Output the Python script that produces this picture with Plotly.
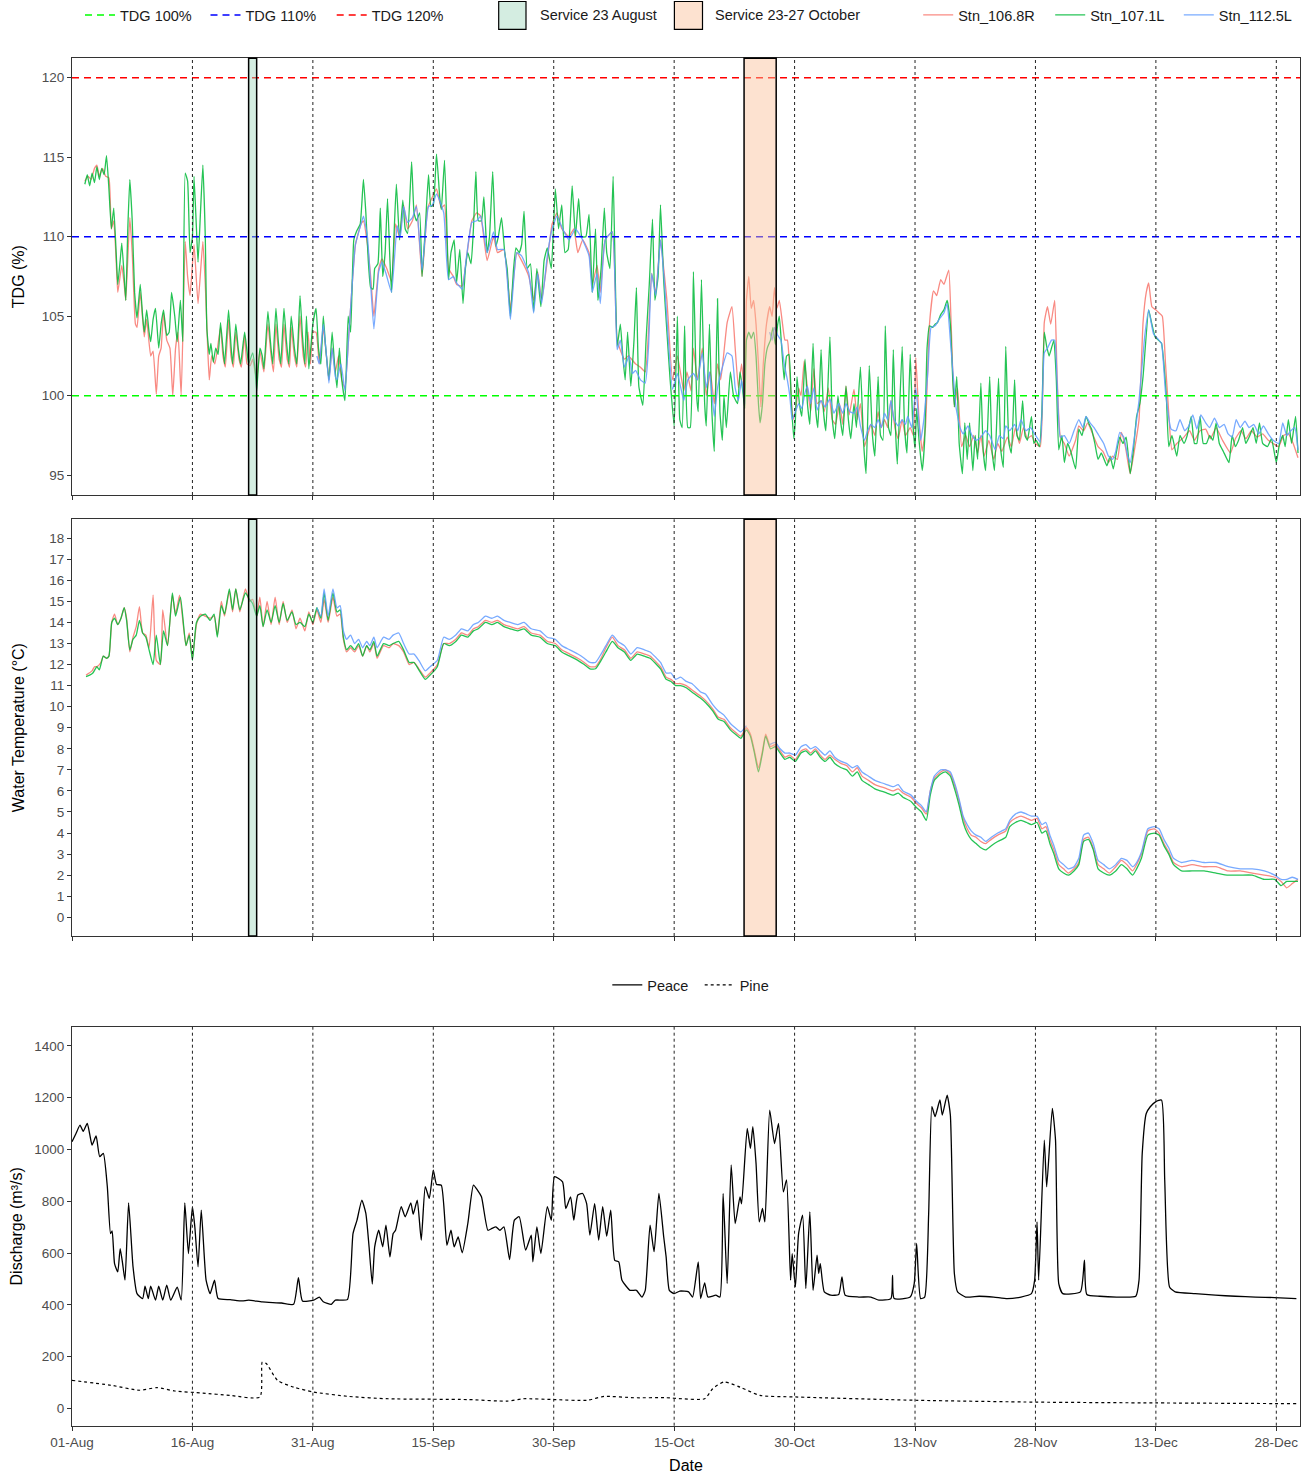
import pandas as pd
import plotly.graph_objects as go

W, H = 1309, 1475
BASE = pd.Timestamp("2019-08-01")

# ---------------- data (day offset from 01-Aug, value) ----------------
tick_days = [0, 15, 30, 45, 60, 75, 90, 105, 120, 135, 150]
tick_labels = ["01-Aug", "16-Aug", "31-Aug", "15-Sep", "30-Sep", "15-Oct",
               "30-Oct", "13-Nov", "28-Nov", "13-Dec", "28-Dec"]
tdg_thresholds = [100, 110, 120]
threshold_names = ["TDG 100%", "TDG 110%", "TDG 120%"]
service_aug = ("2019-08-23 00:00", "2019-08-24 00:00")
service_oct = ("2019-10-23 17:00", "2019-10-27 17:00")

tdg_106_8R = [(1.6,113.5),(2.0,113.8),(2.4,113.6),(2.8,114.3),(3.1,114.5),(3.4,113.8),(3.8,114.3),(4.2,113.8),(4.6,113.7),(4.9,110.5),(5.2,111.0),(5.5,108.5),(5.7,106.5),(6.2,108.2),(6.5,107.0),(6.7,106.0),(7.2,111.2),(7.5,109.0),(7.9,104.5),(8.1,104.3),(8.5,106.5),(9.0,103.7),(9.3,104.8),(9.8,102.5),(10.1,102.8),(10.5,100.1),(10.8,102.5),(11.1,103.0),(11.4,105.2),(11.8,103.5),(12.2,103.0),(12.55,100.0),(12.9,103.0),(13.2,104.0),(13.6,100.0),(14.1,109.7),(14.4,107.5),(14.7,106.3),(15.2,109.5),(15.7,105.8),(16.3,109.7),(16.6,107.0),(16.9,103.0),(17.1,101.0),(17.4,102.5),(17.8,102.0),(18.5,104.3),(18.8,102.5),(19.1,101.8),(19.5,104.8),(19.8,102.5),(20.1,101.8),(20.4,104.0),(20.8,102.3),(21.1,101.8),(21.5,103.8),(21.8,102.0),(22.2,101.9),(22.5,102.3),(23.0,101.0),(23.4,102.8),(23.9,101.5),(24.4,104.5),(24.8,102.5),(25.1,101.5),(25.4,104.5),(25.8,102.3),(26.1,101.8),(26.4,104.5),(26.8,102.3),(27.1,101.8),(27.3,104.3),(27.7,102.5),(28.0,101.8),(28.4,105.0),(28.8,102.5),(29.1,101.8),(29.4,104.0),(29.7,102.0),(30.0,104.0),(30.4,104.0),(30.8,102.0),(31.3,104.2),(31.7,102.5),(32.0,101.0),(32.4,103.0),(32.8,101.5),(33.2,102.5),(33.6,101.0),(34.0,100.5),(34.5,104.0),(35.3,109.5),(36.0,110.8),(36.3,111.0),(36.8,109.5),(37.2,107.5),(37.6,105.0),(38.2,108.0),(38.6,108.6),(39.2,108.0),(39.8,107.2),(40.3,110.8),(40.8,110.0),(41.3,112.0),(41.8,110.5),(42.4,111.0),(42.9,112.0),(43.6,107.5),(44.3,111.8),(44.7,112.3),(45.4,113.0),(46.0,111.8),(46.4,112.0),(46.9,108.0),(47.5,107.5),(47.9,107.0),(48.6,106.9),(49.1,108.5),(49.8,111.0),(50.4,111.5),(50.9,111.3),(51.7,108.5),(52.5,110.0),(53.0,109.0),(53.8,109.2),(54.6,105.5),(55.4,109.0),(56.0,108.5),(56.9,107.5),(57.5,106.0),(58.0,107.8),(58.5,106.0),(59.2,108.5),(59.8,110.8),(60.4,111.5),(61.0,110.5),(61.9,110.0),(62.5,110.5),(63.0,109.0),(63.6,109.8),(64.4,109.0),(64.8,107.0),(65.4,108.2),(65.8,106.5),(66.4,109.8),(67.3,110.3),(67.9,103.5),(68.8,102.3),(69.3,102.5),(70.2,102.0),(70.8,101.8),(71.4,101.5),(71.8,104.0),(72.2,107.7),(72.7,106.5),(73.3,109.8),(73.7,108.0),(74.1,106.0),(74.8,101.0),(75.4,102.5),(76.2,100.3),(76.6,101.5),(77.1,100.3),(77.4,103.0),(77.9,101.0),(78.5,103.0),(79.0,100.0),(79.5,101.5),(80.0,99.5),(80.4,102.0),(80.8,101.0),(81.6,104.6),(82.2,105.6),(82.6,103.0),(83.0,100.5),(83.4,102.0),(83.8,100.0),(84.0,106.0),(84.3,107.5),(84.6,105.5),(84.9,106.0),(85.2,104.5),(85.5,102.0),(85.8,99.3),(86.1,102.0),(86.5,104.5),(86.9,105.6),(87.2,105.0),(87.5,106.8),(87.8,105.5),(88.1,106.0),(88.5,104.5),(88.8,103.5),(89.1,103.5),(89.4,101.5),(89.8,98.5),(90.1,99.0),(90.5,100.5),(90.8,100.0),(91.2,102.2),(91.6,100.5),(92.0,99.0),(92.4,101.7),(92.8,99.5),(93.3,99.7),(93.7,99.0),(94.2,100.5),(94.7,98.5),(95.1,98.2),(95.6,99.5),(96.0,98.2),(96.4,100.6),(96.8,98.8),(97.4,100.4),(97.8,98.5),(98.2,99.5),(98.7,96.8),(99.1,97.5),(99.5,98.2),(100.0,97.5),(100.4,99.0),(100.8,98.0),(101.2,98.5),(101.6,98.0),(102.0,99.7),(102.5,98.0),(102.9,97.3),(103.4,98.5),(103.8,97.5),(104.4,98.0),(104.8,97.5),(105.1,102.4),(105.5,98.5),(105.9,96.5),(106.3,98.0),(106.8,104.5),(107.3,106.6),(107.7,106.3),(108.2,107.3),(108.6,107.0),(109.2,107.9),(109.5,104.5),(109.9,99.3),(110.3,100.5),(110.8,96.8),(111.3,97.5),(111.8,96.8),(112.3,97.5),(112.8,96.4),(113.2,97.5),(113.6,96.2),(114.2,97.2),(114.8,96.0),(115.3,97.0),(115.8,96.5),(116.5,97.4),(117.0,96.8),(117.5,98.0),(118.0,97.0),(118.5,98.0),(119.0,97.3),(119.5,97.5),(120.0,97.0),(120.6,96.8),(121.1,104.6),(121.5,105.6),(121.9,104.5),(122.4,106.0),(122.7,101.2),(123.1,97.4),(123.6,97.0),(124.2,96.2),(125.0,97.2),(125.4,98.1),(126.0,97.8),(126.5,98.3),(127.2,97.5),(127.8,96.8),(128.4,96.5),(129.1,95.8),(129.6,96.2),(130.2,96.0),(130.7,97.7),(131.2,96.8),(131.8,95.1),(132.4,96.8),(132.9,98.5),(133.4,104.6),(133.8,106.5),(134.1,107.1),(134.5,105.6),(135.0,105.4),(135.4,105.2),(135.8,105.0),(136.2,102.0),(136.5,99.7),(137.0,96.6),(137.6,97.0),(138.5,97.4),(139.2,97.8),(139.8,97.2),(140.5,97.8),(141.2,97.9),(141.8,97.3),(142.5,98.0),(143.3,97.2),(144.3,96.4),(144.9,97.3),(145.6,97.8),(146.2,97.3),(146.9,97.8),(147.6,97.4),(148.3,97.6),(149.0,97.2),(149.6,97.0),(150.3,96.8),(150.9,97.5),(151.5,97.6),(152.1,97.0),(152.7,96.1)]

tdg_107_1L = [(1.6,113.3),(1.9,113.9),(2.2,113.2),(2.5,114.0),(2.8,113.4),(3.1,114.4),(3.4,113.6),(3.7,114.3),(4.0,113.9),(4.3,115.1),(4.6,113.0),(4.9,110.5),(5.2,111.8),(5.5,109.0),(5.7,107.0),(6.0,108.5),(6.2,109.6),(6.5,107.5),(6.7,106.0),(6.95,110.5),(7.2,113.6),(7.5,111.0),(7.8,106.5),(8.1,104.9),(8.5,107.0),(8.8,105.0),(9.0,104.0),(9.3,105.4),(9.6,104.0),(9.8,103.4),(10.1,104.8),(10.4,105.5),(10.8,103.0),(11.1,104.5),(11.4,105.4),(11.8,103.8),(12.1,104.0),(12.4,106.5),(12.8,105.0),(13.1,103.4),(13.5,106.0),(13.8,103.4),(14.1,114.0),(14.4,113.5),(14.7,109.0),(15.0,110.0),(15.2,113.8),(15.5,110.5),(15.7,108.4),(16.0,111.5),(16.3,114.5),(16.6,110.0),(16.8,104.2),(17.1,102.6),(17.3,103.3),(17.6,102.1),(17.9,103.0),(18.2,102.6),(18.5,104.6),(18.8,103.0),(19.0,102.0),(19.5,105.4),(19.8,103.2),(20.0,102.0),(20.4,104.5),(20.7,103.0),(21.0,102.0),(21.5,104.0),(21.8,102.8),(22.0,102.0),(22.5,102.7),(22.8,101.7),(23.0,100.3),(23.4,103.0),(23.7,102.5),(23.9,101.7),(24.4,105.3),(24.7,103.5),(25.0,102.0),(25.4,105.5),(25.7,103.4),(26.0,102.0),(26.4,105.5),(26.7,103.5),(27.0,102.0),(27.3,105.0),(27.7,103.0),(28.0,102.0),(28.4,106.3),(28.7,103.8),(29.0,102.0),(29.2,105.0),(29.5,101.7),(30.0,104.5),(30.4,105.5),(30.7,103.0),(31.0,102.0),(31.3,105.0),(31.6,103.0),(32.0,101.0),(32.4,104.0),(32.7,102.0),(33.0,100.5),(33.3,103.0),(33.6,101.0),(34.0,99.7),(34.4,105.0),(34.7,104.0),(35.1,109.8),(35.5,110.4),(35.9,110.8),(36.3,113.6),(36.6,111.5),(36.9,108.5),(37.2,106.8),(37.5,106.7),(37.7,108.0),(38.1,108.3),(38.4,111.8),(38.7,107.5),(39.0,109.0),(39.3,112.4),(39.6,108.5),(39.8,106.5),(40.1,110.0),(40.4,113.3),(40.8,109.8),(41.2,112.3),(41.5,110.5),(41.8,110.2),(42.3,114.7),(42.6,111.5),(42.9,111.0),(43.3,111.5),(43.6,107.5),(44.0,110.5),(44.4,113.9),(44.7,111.9),(45.0,112.0),(45.4,115.2),(45.8,112.5),(46.0,111.7),(46.4,114.8),(46.7,110.5),(46.9,107.3),(47.2,109.0),(47.6,109.8),(47.9,107.1),(48.3,109.2),(48.7,105.8),(49.0,108.0),(49.3,109.0),(49.7,108.3),(50.0,110.5),(50.3,114.1),(50.6,111.0),(51.0,111.0),(51.3,112.5),(51.7,109.0),(52.0,110.0),(52.4,114.1),(52.8,109.4),(53.1,110.0),(53.5,111.2),(53.9,109.0),(54.2,108.0),(54.6,105.0),(55.0,108.0),(55.3,109.3),(55.7,109.0),(56.0,109.5),(56.3,111.6),(56.7,108.0),(57.1,108.3),(57.5,105.3),(57.9,108.0),(58.4,105.6),(58.8,108.5),(59.2,109.3),(59.7,108.0),(60.2,113.0),(60.6,110.5),(61.0,112.0),(61.4,109.0),(61.8,109.2),(62.3,113.2),(62.7,110.0),(63.1,112.4),(63.5,110.0),(64.0,110.0),(64.4,111.4),(64.8,106.5),(65.2,110.5),(65.5,106.0),(65.9,108.0),(66.3,111.8),(66.6,109.0),(67.0,108.0),(67.4,113.8),(67.9,103.1),(68.3,104.5),(68.6,102.5),(68.9,101.0),(69.2,104.0),(69.6,100.6),(70.0,103.5),(70.3,106.8),(70.6,100.6),(71.1,99.4),(71.5,103.5),(71.9,107.0),(72.3,111.1),(72.6,106.0),(73.0,107.5),(73.3,112.0),(73.7,107.2),(74.1,104.0),(74.5,101.0),(75.0,98.1),(75.4,105.0),(75.7,98.5),(76.0,98.0),(76.3,104.4),(76.7,98.0),(77.0,98.0),(77.4,107.8),(77.8,100.0),(78.0,99.0),(78.4,107.3),(78.8,99.5),(79.0,98.1),(79.4,104.5),(79.7,99.0),(80.0,96.5),(80.4,106.1),(80.7,99.0),(81.0,97.2),(81.2,100.0),(81.5,98.0),(82.0,101.5),(82.4,100.0),(82.9,99.5),(83.2,101.5),(83.5,100.5),(83.8,99.2),(84.0,103.5),(84.3,104.0),(84.6,103.6),(84.9,104.0),(85.2,102.5),(85.5,99.5),(85.7,98.3),(86.0,99.5),(86.3,102.0),(86.6,103.0),(87.0,103.5),(87.3,104.3),(87.6,103.2),(87.9,104.5),(88.1,105.0),(88.4,103.0),(88.7,101.0),(89.0,102.5),(89.3,102.6),(89.6,99.5),(89.9,97.3),(90.1,98.5),(90.3,101.2),(90.6,99.5),(90.9,98.7),(91.3,102.3),(91.6,99.5),(91.9,98.2),(92.3,103.3),(92.6,99.3),(92.9,98.0),(93.3,102.9),(93.6,99.0),(93.9,97.8),(94.4,103.7),(94.7,98.5),(95.0,97.3),(95.4,100.0),(95.7,98.5),(96.0,97.5),(96.4,100.6),(96.7,98.5),(97.0,97.3),(97.4,99.5),(97.7,98.0),(98.2,101.8),(98.6,97.0),(98.9,95.1),(99.3,101.9),(99.7,97.5),(100.0,96.2),(100.4,101.2),(100.7,97.5),(101.0,97.2),(101.3,104.4),(101.7,98.0),(102.0,97.5),(102.3,102.9),(102.6,97.5),(102.8,95.7),(103.4,103.1),(103.7,98.0),(104.0,96.4),(104.4,102.6),(104.7,98.5),(105.0,96.7),(105.2,99.2),(105.5,97.2),(105.9,95.3),(106.2,97.2),(106.5,103.0),(106.8,104.4),(107.2,104.3),(107.5,104.5),(107.8,104.6),(108.2,105.1),(108.6,105.4),(109.0,106.0),(109.4,104.5),(109.7,101.0),(109.9,99.3),(110.2,101.2),(110.5,97.0),(110.9,95.1),(111.2,98.3),(111.5,96.0),(111.8,98.3),(112.2,95.3),(112.5,97.5),(112.8,96.0),(113.2,100.8),(113.5,96.5),(113.8,95.3),(114.3,101.2),(114.6,96.5),(114.9,95.3),(115.4,101.1),(115.7,96.5),(116.0,95.5),(116.3,103.1),(116.7,97.0),(117.0,96.4),(117.4,101.0),(117.7,97.5),(118.0,97.2),(118.4,99.7),(118.7,97.5),(119.0,97.2),(119.5,98.7),(119.8,97.0),(120.1,97.2),(120.5,96.8),(120.8,99.0),(121.1,104.0),(121.4,103.1),(121.7,102.5),(122.0,103.0),(122.3,103.5),(122.6,101.0),(122.9,96.6),(123.3,97.5),(123.6,95.8),(124.0,97.0),(124.4,96.5),(125.0,95.4),(125.4,97.9),(125.8,97.5),(126.3,98.7),(126.7,98.2),(127.0,97.9),(127.4,97.0),(127.8,96.0),(128.2,96.4),(128.9,95.6),(129.3,96.2),(129.7,95.4),(130.1,96.5),(130.5,97.4),(130.9,97.0),(131.3,97.4),(131.8,95.1),(132.2,96.6),(132.6,98.7),(133.0,99.5),(133.4,101.2),(134.1,105.4),(134.5,104.5),(134.9,103.7),(135.3,103.5),(135.7,103.3),(136.0,102.0),(136.3,100.0),(136.6,96.8),(137.0,97.5),(137.6,96.2),(138.0,97.5),(138.5,97.0),(138.9,97.5),(139.4,98.7),(139.8,97.0),(140.1,97.0),(140.5,98.7),(140.9,97.0),(141.3,97.0),(141.7,97.5),(142.1,97.2),(142.5,98.3),(142.9,97.0),(143.4,96.5),(144.1,95.8),(144.5,97.5),(144.9,96.8),(145.3,97.2),(145.8,98.0),(146.2,97.0),(146.7,97.5),(147.1,98.0),(147.5,97.0),(147.9,98.3),(148.3,97.0),(148.9,96.8),(149.4,97.3),(150.0,95.8),(150.4,97.0),(150.8,97.5),(151.1,96.8),(151.5,98.5),(151.9,97.0),(152.4,98.7),(152.7,96.4)]

tdg_112_5L = [(30.5,102.5),(30.8,102.0),(31.3,104.5),(31.7,102.5),(32.0,100.8),(32.4,103.0),(32.8,101.2),(33.0,101.0),(33.5,102.0),(34.0,100.3),(34.5,104.0),(35.3,109.5),(36.0,110.8),(36.3,111.3),(36.8,110.0),(37.2,107.0),(37.6,104.2),(38.2,107.8),(38.6,108.4),(39.1,107.7),(39.8,106.5),(40.5,110.7),(40.9,110.0),(41.3,111.9),(41.8,110.9),(42.4,111.2),(42.9,111.9),(43.6,107.9),(44.4,111.9),(44.9,112.0),(45.4,112.7),(46.3,111.5),(46.9,107.3),(47.5,107.5),(47.9,107.1),(48.6,106.7),(49.1,108.6),(49.8,110.9),(50.4,111.0),(50.9,111.3),(51.7,109.0),(52.5,110.3),(53.0,109.2),(53.8,109.2),(54.6,104.8),(55.4,109.0),(56.0,108.8),(56.9,107.7),(57.5,105.2),(58.0,107.7),(58.5,105.8),(59.2,108.8),(59.8,110.5),(60.4,111.3),(61.1,110.5),(61.9,109.8),(62.7,110.5),(63.6,109.8),(64.4,108.8),(64.8,106.5),(65.4,107.7),(65.8,105.8),(66.4,109.8),(67.3,110.3),(67.9,102.9),(68.3,103.5),(68.8,101.8),(69.4,102.5),(69.8,101.4),(70.2,101.6),(70.8,101.0),(71.4,100.8),(71.8,103.0),(72.2,107.7),(72.7,106.3),(73.3,109.8),(73.7,107.7),(74.1,104.8),(74.8,100.4),(75.4,101.4),(76.2,99.7),(76.7,101.0),(77.4,101.4),(77.9,101.0),(78.5,102.7),(79.0,100.5),(79.4,101.5),(80.0,98.7),(80.4,100.5),(80.8,101.4),(81.6,102.7),(82.2,102.5),(82.6,100.5),(83.0,99.7),(83.4,101.0),(83.8,99.5),(85.3,None),(86.9,104.0),(87.2,103.5),(87.5,104.3),(87.9,103.8),(88.3,103.5),(88.7,102.0),(89.1,101.0),(89.4,100.0),(89.7,98.5),(90.1,99.0),(90.5,99.5),(90.9,99.2),(91.3,100.2),(91.6,100.6),(92.0,99.5),(92.4,100.5),(92.8,99.1),(93.3,99.7),(93.8,99.3),(94.4,99.8),(94.9,98.9),(95.5,99.5),(96.0,98.9),(96.4,99.5),(96.9,99.0),(97.4,98.9),(97.8,99.3),(98.2,98.1),(98.7,97.2),(99.1,97.8),(99.5,98.2),(100.0,98.0),(100.4,98.5),(100.8,98.0),(101.2,98.9),(101.6,98.5),(102.0,99.7),(102.4,98.5),(102.9,98.1),(103.4,98.5),(103.8,98.2),(104.1,98.7),(104.6,98.0),(105.1,100.5),(105.7,97.2),(106.1,98.5),(106.6,101.5),(107.0,104.3),(107.5,104.4),(108.0,104.8),(108.6,105.2),(109.0,105.8),(109.4,103.5),(110.1,99.3),(110.6,98.0),(111.0,97.6),(111.6,98.1),(112.1,97.5),(112.6,97.2),(113.2,97.4),(113.8,97.8),(114.3,97.5),(115.0,96.6),(115.5,97.5),(116.0,97.3),(116.3,98.1),(116.8,97.8),(117.4,98.2),(117.8,97.8),(118.2,98.5),(118.8,97.8),(119.4,98.0),(119.9,97.6),(120.6,97.1),(121.1,102.7),(121.5,103.0),(122.0,103.5),(122.4,103.5),(122.7,100.8),(123.1,97.4),(123.6,97.5),(124.2,97.0),(124.8,97.8),(125.4,98.5),(125.9,98.0),(126.3,98.7),(126.8,98.3),(127.3,98.0),(127.9,97.5),(128.5,97.0),(129.1,96.2),(129.6,96.0),(130.0,96.5),(130.5,97.7),(131.0,97.4),(131.5,96.2),(131.8,95.8),(132.3,97.3),(132.9,99.7),(133.6,103.7),(134.1,105.4),(134.7,103.9),(135.2,103.6),(135.7,103.3),(136.2,100.2),(136.9,97.9),(137.5,97.8),(138.0,98.5),(138.6,97.8),(139.1,98.1),(139.6,98.8),(140.1,97.9),(140.6,98.8),(141.2,98.3),(141.7,98.0),(142.3,98.6),(142.9,98.0),(143.5,98.2),(144.0,97.6),(144.5,97.4),(145.0,98.5),(145.5,98.0),(146.1,98.4),(146.6,98.0),(147.2,98.2),(147.8,97.6),(148.4,98.1),(149.0,97.6),(149.6,97.2),(150.3,97.0),(150.8,98.3),(151.3,97.5),(151.8,97.8),(152.3,98.0),(152.7,96.6)]

temp_106_8R = [(1.75,11.5),(2.5,11.7),(2.8,11.9),(3.1,11.9),(3.6,12.1),(3.9,12.4),(4.3,12.3),(4.6,12.4),(4.95,14.0),(5.3,14.4),(5.7,13.9),(6.1,14.2),(6.5,14.7),(6.8,14.2),(7.2,12.6),(7.6,13.3),(8.0,13.8),(8.4,14.75),(8.8,13.5),(9.2,13.4),(9.6,12.8),(10.1,15.3),(10.5,12.2),(11.0,12.0),(11.3,14.6),(11.9,12.9),(12.5,15.3),(12.9,14.4),(13.4,15.3),(14.2,12.9),(14.6,13.5),(15.0,12.3),(15.5,13.9),(16.0,14.4),(16.6,14.3),(17.2,14.2),(17.7,14.3),(18.1,13.4),(18.6,15.0),(19.0,14.3),(19.6,15.5),(20.0,14.5),(20.4,15.6),(20.9,14.5),(21.6,15.6),(22.1,15.0),(22.5,15.1),(23.0,14.3),(23.4,15.2),(23.8,13.8),(24.3,15.0),(24.8,13.9),(25.3,15.2),(25.8,13.9),(26.3,15.0),(26.8,14.0),(27.4,14.6),(27.9,13.7),(28.4,14.2),(29.0,13.6),(29.5,14.5),(30.0,13.9),(30.5,14.6),(31.0,14.0),(31.4,15.1),(31.9,14.0),(32.5,15.2),(33.0,14.3),(33.4,14.4),(33.8,13.2),(34.2,12.6),(34.7,12.8),(35.2,12.6),(35.7,12.9),(36.2,12.4),(36.7,12.9),(37.1,12.6),(37.6,13.0),(38.0,12.3),(38.8,12.9),(39.5,12.8),(40.0,13.0),(40.7,12.9),(41.3,12.6),(42.0,12.0),(42.6,12.1),(43.2,11.8),(44.0,11.4),(44.6,11.6),(45.5,12.0),(46.3,13.0),(47.0,13.0),(47.8,13.2),(48.5,13.5),(49.3,13.4),(50.0,13.7),(50.6,13.8),(51.5,14.1),(52.3,14.0),(53.0,14.1),(53.8,13.9),(54.6,13.8),(55.5,13.7),(56.3,13.8),(57.2,13.5),(58.3,13.4),(59.2,13.1),(60.2,13.0),(61.0,12.7),(62.0,12.5),(63.0,12.3),(63.8,12.1),(64.5,11.9),(65.2,11.9),(65.9,12.3),(66.5,12.8),(67.3,13.3),(68.0,12.9),(68.8,12.7),(69.6,12.3),(70.4,12.6),(71.3,12.5),(72.0,12.4),(73.3,11.9),(74.0,11.4),(74.6,11.3),(75.2,11.1),(75.8,11.1),(76.5,11.0),(77.2,10.8),(78.3,10.5),(78.9,10.3),(79.8,9.9),(80.5,9.5),(81.2,9.4),(82.0,9.0),(82.6,8.8),(83.3,8.6),(84.0,9.0),(84.5,8.7),(85.0,7.9),(85.5,7.1),(86.0,7.9),(86.4,8.7),(87.0,8.1),(87.6,8.2),(88.2,7.9),(88.8,7.6),(89.4,7.7),(90.1,7.5),(90.8,7.9),(91.4,8.0),(92.0,7.8),(92.6,8.0),(93.2,7.7),(93.8,7.5),(94.4,7.7),(95.0,7.5),(95.8,7.3),(96.5,7.2),(97.2,6.9),(97.8,7.1),(98.4,6.7),(99.2,6.5),(100.0,6.3),(100.7,6.2),(101.5,6.1),(102.3,6.0),(102.9,6.1),(103.5,5.9),(104.5,5.7),(105.2,5.4),(105.8,5.2),(106.4,4.9),(106.9,6.0),(107.4,6.6),(108.2,6.9),(108.8,7.0),(109.4,6.8),(110.0,6.2),(110.5,5.5),(111.0,4.7),(111.5,4.2),(112.0,3.9),(112.6,3.8),(113.2,3.6),(113.8,3.5),(114.5,3.7),(115.3,3.9),(116.3,4.1),(116.8,4.5),(117.5,4.7),(118.2,4.8),(118.9,4.7),(119.5,4.6),(120.2,4.7),(120.8,4.2),(121.3,4.3),(121.8,3.7),(122.3,3.2),(122.9,2.5),(123.5,2.3),(124.1,2.1),(124.8,2.3),(125.4,2.6),(126.0,3.7),(126.6,3.8),(127.2,3.3),(127.8,2.5),(128.5,2.3),(129.2,2.1),(130.0,2.4),(130.7,2.7),(131.4,2.5),(132.1,2.2),(132.6,2.5),(133.2,3.0),(134.0,4.1),(134.8,4.2),(135.4,4.0),(136.0,3.5),(136.6,3.1),(137.2,2.6),(138.2,2.4),(139.5,2.5),(141.0,2.4),(142.5,2.4),(144.0,2.2),(145.5,2.2),(147.0,2.1),(148.5,2.0),(149.8,1.9),(150.6,1.7),(151.3,1.4),(152.0,1.6),(152.7,1.8)]

temp_107_1L = [(1.75,11.43),(2.2,11.5),(2.6,11.6),(3.1,11.9),(3.4,11.75),(3.9,12.4),(4.3,12.3),(4.6,12.4),(4.95,14.0),(5.3,14.2),(5.7,13.9),(6.1,14.2),(6.5,14.7),(6.8,14.1),(7.2,12.7),(7.6,13.2),(8.0,13.4),(8.4,14.1),(8.8,13.5),(9.2,13.3),(9.6,12.7),(10.1,12.0),(10.5,13.4),(11.0,12.0),(11.4,13.6),(11.9,12.9),(12.5,15.4),(12.9,14.3),(13.5,15.2),(14.2,12.9),(14.6,13.4),(15.0,12.2),(15.5,14.0),(16.0,14.3),(16.6,14.4),(17.2,14.1),(17.7,14.4),(18.1,13.3),(18.6,14.8),(19.0,14.4),(19.6,15.6),(20.0,14.6),(20.4,15.6),(20.9,14.6),(21.6,15.4),(22.1,15.1),(22.5,14.9),(23.0,14.3),(23.4,14.8),(23.8,13.8),(24.3,14.6),(24.8,14.0),(25.3,14.8),(25.8,14.0),(26.3,14.9),(26.8,14.1),(27.4,14.5),(27.9,13.9),(28.4,14.0),(29.0,13.8),(29.5,14.4),(30.0,14.0),(30.5,14.7),(31.0,14.2),(31.4,15.4),(31.9,14.1),(32.5,15.4),(33.0,14.5),(33.4,14.6),(33.8,13.3),(34.2,12.7),(34.7,12.9),(35.2,12.7),(35.7,13.0),(36.2,12.4),(36.7,12.9),(37.1,12.7),(37.6,13.1),(38.0,12.4),(38.8,13.0),(39.5,12.9),(40.0,13.0),(40.7,13.1),(41.3,12.7),(42.0,12.1),(42.6,12.1),(43.2,11.75),(44.0,11.3),(44.6,11.5),(45.5,11.9),(46.3,13.0),(47.0,12.9),(47.8,13.1),(48.5,13.4),(49.3,13.3),(50.0,13.6),(50.6,13.7),(51.5,14.0),(52.3,13.9),(53.0,14.0),(53.8,13.8),(54.6,13.7),(55.5,13.6),(56.3,13.7),(57.2,13.4),(58.3,13.3),(59.2,13.0),(60.2,12.9),(61.0,12.6),(62.0,12.4),(63.0,12.2),(63.8,12.0),(64.5,11.8),(65.2,11.8),(65.9,12.2),(66.5,12.6),(67.3,13.1),(68.0,12.8),(68.8,12.6),(69.6,12.2),(70.4,12.5),(71.3,12.4),(72.0,12.3),(73.3,11.8),(74.0,11.3),(74.6,11.2),(75.2,11.0),(75.8,11.0),(76.5,10.9),(77.2,10.7),(78.3,10.4),(78.9,10.2),(79.8,9.8),(80.5,9.4),(81.2,9.3),(82.0,8.9),(82.6,8.7),(83.3,8.5),(84.0,8.9),(84.5,8.6),(85.0,7.8),(85.5,6.9),(86.0,7.8),(86.4,8.6),(87.0,8.0),(87.6,8.1),(88.2,7.8),(88.8,7.5),(89.4,7.6),(90.1,7.4),(90.8,7.8),(91.4,7.9),(92.0,7.7),(92.6,7.9),(93.2,7.6),(93.8,7.4),(94.4,7.6),(95.0,7.3),(95.8,7.1),(96.5,7.0),(97.2,6.7),(97.8,6.9),(98.4,6.5),(99.2,6.3),(100.0,6.1),(100.7,6.0),(101.5,5.9),(102.3,5.8),(102.9,5.9),(103.5,5.7),(104.5,5.5),(105.2,5.2),(105.8,5.0),(106.4,4.6),(106.9,5.8),(107.4,6.5),(108.2,6.8),(108.8,6.9),(109.4,6.7),(110.0,6.0),(110.5,5.3),(111.0,4.5),(111.5,4.0),(112.0,3.7),(112.6,3.5),(113.2,3.3),(113.8,3.2),(114.5,3.4),(115.3,3.6),(116.3,3.8),(116.8,4.3),(117.5,4.5),(118.2,4.6),(118.9,4.5),(119.5,4.4),(120.2,4.5),(120.8,4.0),(121.3,4.1),(121.8,3.5),(122.3,3.0),(122.9,2.3),(123.5,2.1),(124.1,2.0),(124.8,2.2),(125.4,2.5),(126.0,3.6),(126.6,3.7),(127.2,3.2),(127.8,2.3),(128.5,2.1),(129.2,2.0),(130.0,2.2),(130.7,2.5),(131.4,2.3),(132.1,2.0),(132.6,2.3),(133.2,2.8),(134.0,3.9),(134.8,4.0),(135.4,3.9),(136.0,3.4),(136.6,3.0),(137.2,2.5),(138.2,2.2),(139.5,2.2),(141.0,2.2),(142.5,2.1),(144.0,2.0),(145.5,2.0),(147.0,2.0),(148.5,1.8),(149.8,1.8),(150.6,1.5),(151.3,1.7),(152.0,1.7),(152.7,1.7)]

temp_112_5L = [(30.5,14.7),(31.0,14.3),(31.4,15.6),(31.9,14.3),(32.5,15.6),(33.0,14.7),(33.4,14.8),(33.8,13.6),(34.2,13.2),(34.7,13.4),(35.2,13.0),(35.7,13.2),(36.2,12.8),(36.7,13.1),(37.1,12.9),(37.6,13.3),(38.0,12.8),(38.8,13.3),(39.5,13.2),(40.0,13.4),(40.7,13.5),(41.3,13.0),(42.0,12.5),(42.6,12.5),(43.2,12.2),(44.0,11.7),(44.6,11.9),(45.5,12.2),(46.3,13.3),(47.0,13.2),(47.8,13.4),(48.5,13.7),(49.3,13.6),(50.0,13.9),(50.6,14.0),(51.5,14.3),(52.3,14.2),(53.0,14.3),(53.8,14.1),(54.6,14.0),(55.5,13.9),(56.3,14.0),(57.2,13.7),(58.3,13.6),(59.2,13.3),(60.2,13.2),(61.0,12.9),(62.0,12.7),(63.0,12.5),(63.8,12.3),(64.5,12.1),(65.2,12.1),(65.9,12.5),(66.5,12.9),(67.3,13.4),(68.0,13.1),(68.8,12.9),(69.6,12.5),(70.4,12.8),(71.3,12.7),(72.0,12.6),(73.3,12.1),(74.0,11.6),(74.6,11.6),(75.2,11.3),(75.8,11.4),(76.5,11.2),(77.2,11.1),(78.3,10.7),(78.9,10.6),(79.8,10.1),(80.5,9.8),(81.2,9.6),(82.0,9.2),(82.6,9.0),(83.3,8.8),(84.0,9.1),(85.3,None),(86.9,8.2),(87.6,8.3),(88.2,8.0),(88.8,7.8),(89.4,7.8),(90.1,7.7),(90.8,8.1),(91.4,8.2),(92.0,8.0),(92.6,8.1),(93.2,7.9),(93.8,7.7),(94.4,7.9),(95.0,7.6),(95.8,7.4),(96.5,7.3),(97.2,7.1),(97.8,7.2),(98.4,6.9),(99.2,6.7),(100.0,6.5),(100.7,6.4),(101.5,6.3),(102.3,6.2),(102.9,6.3),(103.5,6.0),(104.5,5.8),(105.2,5.5),(105.8,5.3),(106.4,5.0),(106.9,6.0),(107.4,6.7),(108.2,7.0),(108.8,7.0),(109.4,6.9),(110.0,6.3),(110.5,5.6),(111.0,4.8),(111.5,4.4),(112.0,4.1),(112.6,3.9),(113.2,3.8),(113.8,3.6),(114.5,3.8),(115.3,4.0),(116.3,4.2),(116.8,4.6),(117.5,4.9),(118.2,5.0),(118.9,4.9),(119.5,4.8),(120.2,4.8),(120.8,4.4),(121.3,4.5),(121.8,3.9),(122.3,3.4),(122.9,2.7),(123.5,2.5),(124.1,2.3),(124.8,2.4),(125.4,2.8),(126.0,3.9),(126.6,4.0),(127.2,3.5),(127.8,2.7),(128.5,2.5),(129.2,2.3),(130.0,2.5),(130.7,2.8),(131.4,2.7),(132.1,2.4),(132.6,2.6),(133.2,3.1),(134.0,4.2),(134.8,4.3),(135.4,4.2),(136.0,3.7),(136.6,3.3),(137.2,2.8),(138.2,2.6),(139.5,2.7),(141.0,2.6),(142.5,2.6),(144.0,2.4),(145.5,2.3),(147.0,2.3),(148.5,2.2),(149.8,2.0),(150.6,1.8),(151.3,1.8),(152.0,1.9),(152.7,1.8)]

peace_q = [(0.0,1030),(0.5,1062),(1.0,1094),(1.4,1070),(1.9,1101),(2.2,1060),(2.5,1017),(3.0,1052),(3.45,972),(3.9,985),(4.4,856),(4.8,675),(5.0,685),(5.3,559),(5.7,527),(6.0,617),(6.3,560),(6.6,495),(7.05,794),(7.6,547),(8.1,443),(8.8,424),(9.1,472),(9.5,424),(9.8,472),(10.4,418),(10.8,472),(11.3,418),(11.8,476),(12.3,418),(13.1,468),(13.6,418),(14.05,794),(14.5,598),(15.0,779),(15.3,700),(15.7,547),(16.1,766),(16.7,495),(17.2,443),(17.75,495),(18.2,424),(19.7,420),(21.2,415),(22.0,418),(23.7,411),(26.1,407),(27.6,402),(28.2,505),(28.7,415),(30.1,418),(30.8,430),(31.3,412),(32.3,402),(32.8,418),(34.3,420),(35.0,675),(35.5,727),(36.1,804),(36.6,753),(37.0,624),(37.4,480),(37.7,624),(38.2,688),(38.7,624),(39.1,708),(39.6,585),(40.0,675),(40.3,688),(41.0,779),(41.5,740),(42.2,794),(42.5,750),(43.0,804),(43.5,650),(44.0,856),(44.5,811),(45.0,920),(45.4,865),(46.0,862),(46.7,630),(47.2,688),(47.6,624),(48.1,662),(48.6,601),(49.3,714),(50.0,862),(50.5,843),(51.0,817),(51.8,688),(52.3,695),(52.8,701),(53.3,688),(53.8,701),(54.5,575),(55.1,727),(55.7,740),(56.5,611),(57.2,669),(57.4,566),(57.9,701),(58.4,598),(59.2,779),(59.7,727),(60.1,895),(61.1,875),(61.5,772),(62.1,817),(62.5,727),(63.0,824),(63.6,830),(64.1,791),(64.5,669),(65.1,791),(65.6,650),(66.1,779),(66.6,665),(67.1,766),(67.6,572),(68.1,566),(68.5,495),(69.5,456),(70.3,456),(71.0,430),(71.4,456),(72.0,708),(72.5,605),(73.1,830),(73.7,662),(74.0,585),(74.4,456),(75.0,443),(75.7,453),(76.8,450),(77.3,430),(78.0,566),(78.3,424),(78.8,485),(79.2,430),(80.2,437),(80.7,430),(81.1,830),(81.6,482),(82.1,940),(82.6,714),(83.2,817),(83.4,790),(84.1,1081),(84.5,1004),(84.8,1088),(85.2,946),(85.6,720),(86.0,772),(86.3,720),(86.9,1152),(87.5,1023),(88.0,1101),(88.6,836),(89.0,882),(89.5,495),(89.7,598),(90.1,469),(90.5,675),(91.0,746),(91.4,463),(91.9,759),(92.3,456),(92.8,592),(93.0,521),(93.2,559),(93.7,450),(94.5,437),(95.5,440),(95.9,508),(96.3,437),(98.0,430),(99.5,430),(100.5,418),(102.0,424),(102.2,514),(102.4,424),(104.4,430),(104.9,482),(105.2,637),(105.7,424),(106.2,430),(106.7,753),(107.1,1165),(107.5,1127),(108.1,1191),(108.4,1133),(109.0,1210),(109.4,1133),(109.9,521),(110.3,450),(111.3,430),(113.0,433),(114.8,430),(116.5,424),(118.2,430),(119.5,443),(119.9,495),(120.2,720),(120.4,495),(121.1,1036),(121.4,856),(122.1,1159),(122.5,1036),(122.9,482),(123.4,443),(125.6,450),(126.1,572),(126.4,440),(128.0,433),(130.1,430),(132.5,433),(132.9,495),(133.3,985),(133.8,1139),(134.3,1165),(135.0,1185),(135.7,1191),(136.1,882),(136.7,469),(137.4,450),(139.9,443),(142.4,437),(144.9,433),(147.4,430),(149.8,428),(152.5,424)]

pine_q = [(0.0,108),(4.9,89),(8.4,70),(10.6,80),(12.8,67),(16.3,59),(19.7,50),(23.4,44),(23.7,179),(24.2,173),(25.6,108),(27.6,82),(30.1,63),(34.5,46),(39.4,37),(49.3,34),(54.2,28),(56.2,37),(60.0,34),(64.1,31),(66.3,46),(70.0,41),(74.0,41),(76.0,37),(78.8,37),(79.8,76),(81.2,102),(83.2,82),(85.7,50),(90.1,44),(105.4,31),(120.2,24),(135.0,21),(152.7,18)]

# ---------------- helpers ----------------
def split(series):
    xs = [BASE + pd.Timedelta(days=d) for d, _ in series]
    ys = [v for _, v in series]
    return xs, ys

def px_x(p):
    return p / W

def px_y(p):
    return 1 - p / H

FONT = "Liberation Sans, Arial, sans-serif"
X0, X1 = 72, 1300
panels = {  # pixel top / bottom of each panel
    1: (58.3, 495.0),
    2: (519.3, 936.0),
    3: (1027.0, 1425.7),
}
x_end = BASE + pd.Timedelta(days=152.95)
x_range = [BASE, x_end]
tick_vals = [BASE + pd.Timedelta(days=d) for d in tick_days]

st_colors = {"Stn_106.8R": "#F8766D", "Stn_107.1L": "#00BA38", "Stn_112.5L": "#619CFF"}
thr_colors = ["#00FF00", "#0000FF", "#FF0000"]

fig = go.Figure()

legend_text_px = {
    "TDG 100%": (122, 15), "TDG 110%": (247.5, 15), "TDG 120%": (373.7, 15),
    "Stn_106.8R": (960.2, 15), "Stn_107.1L": (1092.2, 15), "Stn_112.5L": (1220.8, 15),
    "Peace": (649.3, 985), "Pine": (741.7, 985),
}
LEG_OFF = 42
leg_ids = {}
for i, name in enumerate(legend_text_px):
    leg_ids[name] = "legend" if i == 0 else f"legend{i + 1}"

for name, tdg, tmp in [("Stn_106.8R", tdg_106_8R, temp_106_8R),
                       ("Stn_107.1L", tdg_107_1L, temp_107_1L),
                       ("Stn_112.5L", tdg_112_5L, temp_112_5L)]:
    x, y = split(tdg)
    fig.add_trace(go.Scatter(x=x, y=y, mode="lines", name=name, xaxis="x", yaxis="y",
                             line=dict(color=st_colors[name], width=1.3, shape="spline", smoothing=0.4),
                             opacity=0.85, legend=leg_ids[name], showlegend=True))
    x, y = split(tmp)
    fig.add_trace(go.Scatter(x=x, y=y, mode="lines", name=name, xaxis="x2", yaxis="y2",
                             line=dict(color=st_colors[name], width=1.3, shape="spline", smoothing=0.5),
                             opacity=0.85, showlegend=False))

for thr, nm, col in zip(tdg_thresholds, threshold_names, thr_colors):
    fig.add_trace(go.Scatter(x=x_range, y=[thr, thr], mode="lines", name=nm,
                             xaxis="x", yaxis="y",
                             line=dict(color=col, width=1.4, dash="7px,5px"),
                             legend=leg_ids[nm], showlegend=True))

x, y = split(peace_q)
fig.add_trace(go.Scatter(x=x, y=y, mode="lines", name="Peace", xaxis="x3", yaxis="y3",
                         line=dict(color="#000000", width=1.3, shape="spline", smoothing=0.5),
                         legend=leg_ids["Peace"]))
x, y = split(pine_q)
fig.add_trace(go.Scatter(x=x, y=y, mode="lines", name="Pine", xaxis="x3", yaxis="y3",
                         line=dict(color="#000000", width=1.2, dash="dot", shape="spline", smoothing=0.6),
                         legend=leg_ids["Pine"]))

shapes = []
for xr, yr in [("x", "y"), ("x2", "y2"), ("x3", "y3")]:
    for tv in tick_vals[1:]:
        shapes.append(dict(type="line", xref=xr, yref=f"{yr} domain", x0=tv, x1=tv, y0=0, y1=1,
                           line=dict(color="#222222", width=1, dash="3px,3px"), layer="above"))

aug_fill = "rgba(160,215,188,0.45)"
oct_fill = "rgba(250,190,150,0.45)"
for xr, yr in [("x", "y"), ("x2", "y2")]:
    for (s0, s1), fc in [(service_aug, aug_fill), (service_oct, oct_fill)]:
        shapes.append(dict(type="rect", xref=xr, yref=f"{yr} domain", x0=s0, x1=s1, y0=0, y1=1,
                           fillcolor=fc, line=dict(color="#000000", width=1.5), layer="above"))

annotations = []
for (bx0, bx1, tx, label, fc) in [(498.7, 526.0, 537.9, "Service 23 August", aug_fill),
                                   (674.4, 702.5, 713.0, "Service 23-27 October", oct_fill)]:
    shapes.append(dict(type="rect", xref="paper", yref="paper",
                       x0=px_x(bx0), x1=px_x(bx1), y0=px_y(29.3), y1=px_y(1.5),
                       fillcolor=fc, line=dict(color="#000000", width=1.2)))
    annotations.append(dict(x=px_x(tx), y=px_y(15), xref="paper", yref="paper", text=label,
                            showarrow=False, xanchor="left", yanchor="middle",
                            font=dict(family=FONT, size=14.5, color="#1a1a1a")))

axis_common = dict(showline=True, mirror=True, linecolor="#333333", linewidth=1, automargin=False,
                   ticks="outside", ticklen=4, tickcolor="#333333", showgrid=False, zeroline=False,
                   tickfont=dict(family=FONT, size=13.5, color="#4D4D4D"))

def xdom():
    return [px_x(X0), px_x(X1)]

def ydom(i):
    t, b = panels[i]
    return [px_y(b), px_y(t)]

TITLE_FONT = dict(family=FONT, size=16, color="#000000")
layout = dict(
    width=W, height=H, margin=dict(l=0, r=0, t=0, b=0, autoexpand=False),
    paper_bgcolor="white", plot_bgcolor="white",
    font=dict(family=FONT, size=14, color="#000000"),
    shapes=shapes, annotations=annotations,
    xaxis=dict(domain=xdom(), anchor="y", type="date", range=x_range, tickvals=tick_vals,
               showticklabels=False, **axis_common),
    xaxis2=dict(domain=xdom(), anchor="y2", type="date", range=x_range, tickvals=tick_vals,
                showticklabels=False, **axis_common),
    xaxis3=dict(domain=xdom(), anchor="y3", type="date", range=x_range, tickvals=tick_vals,
                ticktext=tick_labels, showticklabels=True,
                title=dict(text="Date", font=TITLE_FONT, standoff=10), **axis_common),
    yaxis=dict(domain=ydom(1), anchor="x", range=[93.76, 121.22], tickvals=[95, 100, 105, 110, 115, 120],
               title=dict(text="TDG (%)", font=TITLE_FONT, standoff=13), **axis_common),
    yaxis2=dict(domain=ydom(2), anchor="x2", range=[-0.89, 18.9], tickvals=list(range(0, 19)),
                title=dict(text="Water Temperature (°C)", font=TITLE_FONT, standoff=20), **axis_common),
    yaxis3=dict(domain=ydom(3), anchor="x3", range=[-67, 1473], tickvals=list(range(0, 1401, 200)),
                title=dict(text="Discharge (m³/s)", font=TITLE_FONT, standoff=7), **axis_common),
)
for name, (tx, ty) in legend_text_px.items():
    layout[leg_ids[name]] = dict(x=px_x(tx - LEG_OFF), y=px_y(ty), xanchor="left", yanchor="middle",
                                 orientation="h", bgcolor="rgba(0,0,0,0)", borderwidth=0,
                                 font=dict(family=FONT, size=14.5, color="#1a1a1a"), itemwidth=30)
fig.update_layout(**layout)
fig.write_html("out.html")
